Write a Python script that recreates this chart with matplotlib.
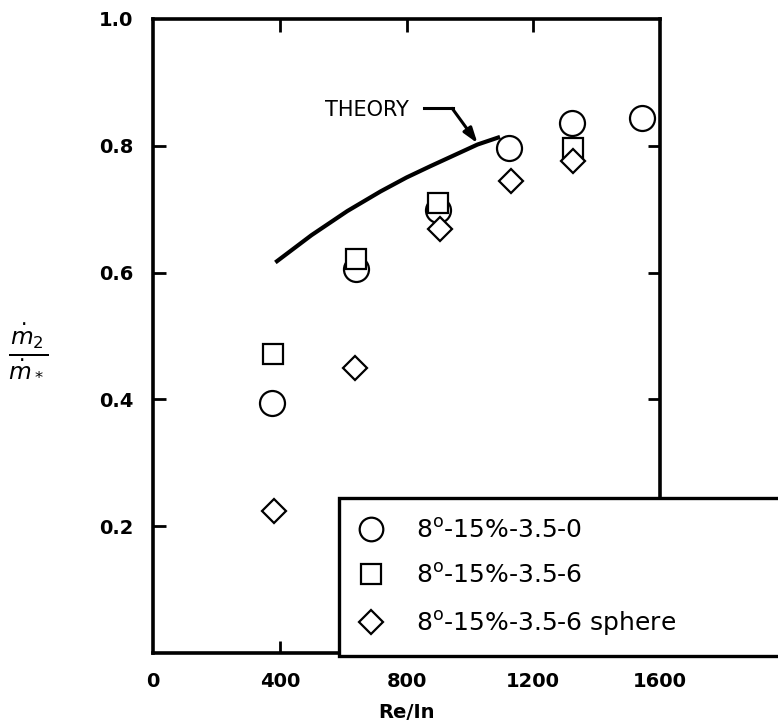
import numpy as np
from matplotlib import pyplot as plt
from matplotlib.patches import Rectangle
from matplotlib.lines import Line2D

# data
re_circle = [376, 642, 898, 1123, 1322, 1543]
m_circle = [0.395, 0.606, 0.698, 0.797, 0.836, 0.844]

re_square = [379, 642, 898, 1325]
m_square = [0.471, 0.622, 0.710, 0.797]

re_diamond = [383, 636, 904, 1129, 1325]
m_diamond = [0.224, 0.449, 0.669, 0.745, 0.776]

re_theory = [386, 500, 613, 718, 800, 876, 950, 1024, 1095]
m_theory = [0.616, 0.659, 0.697, 0.728, 0.750, 0.768, 0.785, 0.802, 0.814]

labels = [r'8$^{\mathrm{o}}$-15%-3.5-0',
          r'8$^{\mathrm{o}}$-15%-3.5-6',
          r'8$^{\mathrm{o}}$-15%-3.5-6 sphere']


def main():
    fig = plt.figure(figsize=(7.78, 7.22), dpi=100)
    ax = fig.add_axes([0.1967, 0.0956, 0.6517, 0.8781])

    mk = dict(linestyle='none', markerfacecolor='white', markeredgecolor='black',
              markeredgewidth=1.6)
    ax.plot(re_theory, m_theory, color='black', linewidth=3.0, solid_capstyle='butt')
    ax.plot(re_circle, m_circle, marker='o', markersize=18, **mk)
    ax.plot(re_square, m_square, marker='s', markersize=14, **mk)
    ax.plot(re_diamond, m_diamond, marker='D', markersize=12, **mk)

    # THEORY label with bent arrow
    ax.text(543, 0.857, 'THEORY', fontsize=15, ha='left', va='center')
    ax.plot([854, 946], [0.859, 0.859], color='black', linewidth=2.2)
    ax.annotate('', xy=(1024, 0.804), xytext=(944, 0.859),
                arrowprops=dict(arrowstyle='-|>,head_length=0.9,head_width=0.3',
                                color='black', linewidth=2.2, shrinkA=0, shrinkB=0))

    ax.set_xlim(0, 1600)
    ax.set_ylim(0, 1.0)
    ax.set_xticks([0, 400, 800, 1200, 1600])
    ax.set_xticklabels(['0', '400', '800', '1200', '1600'])
    ax.set_yticks([0.2, 0.4, 0.6, 0.8, 1.0])
    ax.set_yticklabels(['0.2', '0.4', '0.6', '0.8', '1.0'])
    ax.tick_params(direction='in', length=9, width=2, labelsize=14, pad=14,
                   top=True, right=True)
    for t in ax.get_xticklabels() + ax.get_yticklabels():
        t.set_fontweight('bold')
    xt = ax.xaxis.get_major_ticks()
    xt[-1].tick2line.set_visible(False)
    xt[0].tick1line.set_visible(False)
    xt[0].tick2line.set_visible(False)
    yt = ax.yaxis.get_major_ticks()
    yt[-1].tick1line.set_visible(False)
    yt[-1].tick2line.set_visible(False)
    for s in ax.spines.values():
        s.set_linewidth(2.6)

    ax.set_xlabel('Re/In', fontsize=14, fontweight='bold', labelpad=8)
    fig.text(0.036, 0.515, r'$\frac{\dot{m}_2}{\dot{m}_*}$', fontsize=24,
             ha='center', va='center')

    # legend box sticking out past the right edge
    box = Rectangle((0.367, -0.004), 1.0, 0.249, transform=ax.transAxes,
                    facecolor='white', edgecolor='black', linewidth=2.4,
                    clip_on=False, zorder=5)
    ax.add_patch(box)
    handles = [Line2D([], [], marker='o', markersize=17, **mk),
               Line2D([], [], marker='s', markersize=14, **mk),
               Line2D([], [], marker='D', markersize=12, **mk)]
    leg = ax.legend(handles, labels, loc='upper left', bbox_to_anchor=(0.385, 0.228),
                    frameon=False, fontsize=18, handlelength=1.0, handletextpad=1.3,
                    labelspacing=0.85, borderaxespad=0)
    leg.set_zorder(6)

    fig.savefig('out.png', dpi=100)


main()
